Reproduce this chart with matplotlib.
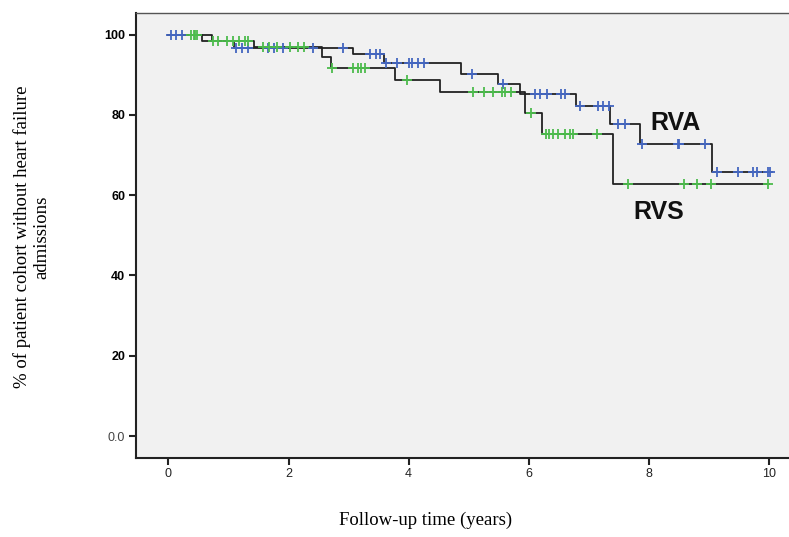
import numpy as np
import matplotlib
matplotlib.use("Agg")
import matplotlib.pyplot as plt

# ---- data ----
rva_times = [0.0, 0.73, 1.09, 3.08, 3.59, 4.87, 5.49, 5.86, 6.78, 7.35, 7.85, 9.06]
rva_surv = [100.0, 98.5, 96.75, 95.1, 92.9, 90.2, 87.7, 85.2, 82.3, 77.8, 72.8, 65.8]
rva_end = 10.05
rva_censor = [0.05, 0.13, 0.22, 1.12, 1.23, 1.32, 1.65, 1.75, 1.9, 2.4, 2.91,
              3.36, 3.45, 3.53, 3.63, 3.81, 4.0, 4.06, 4.16, 4.25, 5.06, 5.58,
              6.11, 6.18, 6.31, 6.53, 6.61, 6.86, 7.16, 7.23, 7.33, 7.48, 7.61,
              7.88, 8.48, 8.51, 8.94, 9.14, 9.49, 9.74, 9.81, 9.99, 10.02]

rvs_times = [0.0, 0.56, 1.42, 2.56, 2.70, 3.78, 4.53, 5.94, 6.22, 7.40]
rvs_surv = [100.0, 98.5, 96.85, 94.3, 91.6, 88.7, 85.6, 80.5, 75.2, 62.8]
rvs_end = 10.0
rvs_censor = [0.38, 0.42, 0.45, 0.48, 0.75, 0.83, 0.98, 1.07, 1.17, 1.28, 1.33,
              1.58, 1.67, 1.8, 2.03, 2.15, 2.25, 2.72, 3.08, 3.15, 3.21, 3.28,
              3.97, 5.08, 5.25, 5.41, 5.55, 5.6, 5.7, 6.04, 6.28, 6.34, 6.41,
              6.48, 6.61, 6.68, 6.73, 7.14, 7.66, 8.58, 8.81, 9.04, 9.99]

x_ticks = [0, 2, 4, 6, 8, 10]
y_ticks = [0, 20, 40, 60, 80, 100]
y_ticklabels = ["0.0", "20", "40", "60", "80", "100"]

BLUE = "#4466c0"
GREEN = "#4cbb4c"

fig = plt.figure(figsize=(7.89, 5.37), dpi=100)
ax = fig.add_axes([135.7/789, (537-457.7)/537, (789-135.7)/789, (457.7-12.7)/537])
ax.set_facecolor("#f1f1f1")


def surv_at(times, surv, t):
    idx = np.searchsorted(times, t, side="right") - 1
    return np.asarray(surv)[idx]


for times, surv, end, cens, col in [
    (rva_times, rva_surv, rva_end, rva_censor, BLUE),
    (rvs_times, rvs_surv, rvs_end, rvs_censor, GREEN),
]:
    xs = list(times) + [end]
    ys = list(surv) + [surv[-1]]
    ax.step(xs, ys, where="post", color="#222222", lw=1.3, zorder=2)
    cy = surv_at(times, surv, np.array(cens))
    ax.plot(cens, cy, linestyle="none", marker="+", markersize=7,
            markeredgewidth=1.3, color=col, zorder=3)

ax.text(8.44, 77.9, "RVA", fontsize=18, fontweight="bold",
        family="Liberation Sans", ha="center", va="center", color="#111111")
ax.text(8.16, 55.9, "RVS", fontsize=18, fontweight="bold",
        family="Liberation Sans", ha="center", va="center", color="#111111")

ax.set_xlim(-0.545, 10.335)
ax.set_ylim(-5.4, 105.45)
ax.set_xticks(x_ticks)
ax.set_xticklabels([str(v) for v in x_ticks], fontsize=9,
                   family="Liberation Sans", color="#222222")
ax.set_yticks(y_ticks)
ax.set_yticklabels(y_ticklabels, fontsize=9, family="Liberation Sans")
for lab in ax.get_yticklabels():
    if lab.get_text() == "0.0":
        lab.set_color("#444444")
    else:
        lab.set_fontweight("bold")
ax.tick_params(axis="both", direction="out", length=5, width=1.5,
               color="#222222", pad=2.5)

for s in ["left", "bottom"]:
    ax.spines[s].set_linewidth(1.5)
    ax.spines[s].set_color("#222222")
ax.spines["top"].set_linewidth(1.0)
ax.spines["top"].set_color("#555555")
ax.spines["right"].set_visible(False)

fig.text(32/789, 1 - 237/537,
         "% of patient cohort without heart failure\nadmissions",
         rotation=90, ha="center", va="center", fontsize=13.5,
         family="Liberation Serif", linespacing=1.15)
fig.text(426/789, 1 - 520/537, "Follow-up time (years)", ha="center",
         va="center", fontsize=13.5, family="Liberation Serif")

fig.savefig("out.png", dpi=100, facecolor="white")
